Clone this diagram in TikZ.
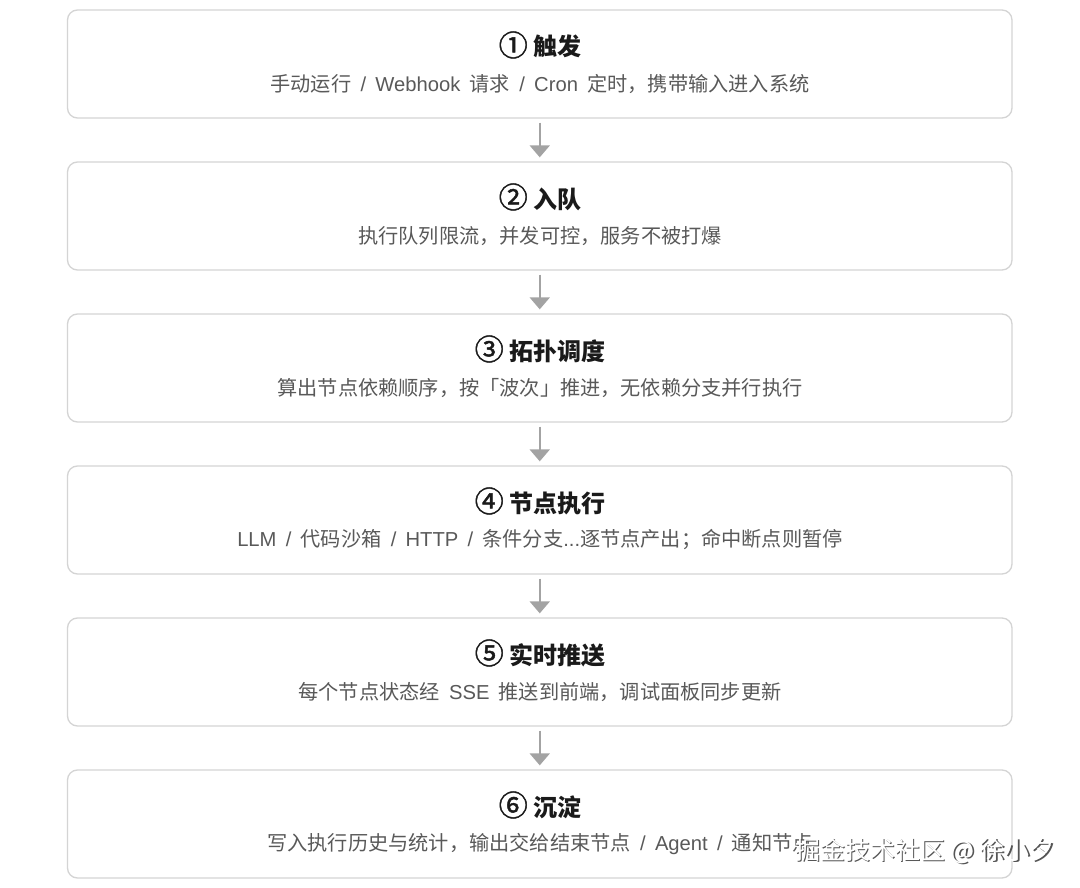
\documentclass[tikz,border=0pt]{standalone}
\usepackage{fontspec}
\setmainfont{Noto Sans CJK SC}
\newfontfamily\latfont{Liberation Sans}[WordSpace=1.65]
\newfontfamily\circfont{Noto Sans CJK SC}[FakeBold=1.6]
\newcommand{\la}[1]{{\latfont #1}}
\newcommand{\cn}[1]{{\circfont\mdseries\fontsize{29}{29}\selectfont #1}}
\usetikzlibrary{arrows.meta}
\definecolor{boxline}{HTML}{D4D4D4}
\definecolor{titlec}{HTML}{1A1A1A}
\definecolor{subc}{HTML}{595959}
\definecolor{arrowc}{HTML}{A3A3A3}
\definecolor{shadowc}{HTML}{555555}
\begin{document}
\begin{tikzpicture}[x=1pt,y=-1pt,
  stepbox/.style={draw=boxline, line width=1.3pt, rounded corners=10pt, fill=white,
    minimum width=944.5pt, minimum height=108pt, inner sep=0pt},
  ttl/.style={font=\fontsize{24}{28}\selectfont\bfseries, text=titlec, inner sep=0pt, anchor=base},
  sub/.style={font=\fontsize{20.2}{24}\selectfont, text=subc, inner sep=0pt},
  flow/.style={draw=arrowc, line width=2pt, -{Triangle[width=20pt,length=12pt]},
    shorten <=4pt, shorten >=4pt},
  wm/.style={font=\fontsize{25}{28}\selectfont, inner sep=0pt}]
\useasboundingbox (0,0) rectangle (1080,888);
\fill[white] (0,0) rectangle (1080,888);

\node[stepbox] (b1) at (539.75,64) {};
\node[stepbox] (b2) at (539.75,216) {};
\node[stepbox] (b3) at (539.75,368) {};
\node[stepbox] (b4) at (539.75,520) {};
\node[stepbox] (b5) at (539.75,672) {};
\node[stepbox] (b6) at (539.75,824) {};

\node[ttl] (t1) at (540,56) {\cn{①} 触发};
\node[sub] (s1) at (540,84) {手动运行\la{ / Webhook }请求\la{ / Cron }定时，携带输入进入系统};
\node[ttl] (t2) at (540,208) {\cn{②} 入队};
\node[sub] (s2) at (540,236) {执行队列限流，并发可控，服务不被打爆};
\node[ttl] (t3) at (540,360) {\cn{③} 拓扑调度};
\node[sub] (s3) at (540,388) {算出节点依赖顺序，按「波次」推进，无依赖分支并行执行};
\node[ttl] (t4) at (540,512) {\cn{④} 节点执行};
\node[sub] (s4) at (540,540) {\la{LLM / }代码沙箱\la{ / HTTP / }条件分支\la{...}逐节点产出；命中断点则暂停};
\node[ttl] (t5) at (540,664) {\cn{⑤} 实时推送};
\node[sub] (s5) at (540,692) {每个节点状态经\la{ SSE }推送到前端，调试面板同步更新};
\node[ttl] (t6) at (540,816) {\cn{⑥} 沉淀};
\node[sub] (s6) at (540,844) {写入执行历史与统计，输出交给结束节点\la{ / Agent / }通知节点};

\draw[flow] (b1.south) -- (b2.north);
\draw[flow] (b2.south) -- (b3.north);
\draw[flow] (b3.south) -- (b4.north);
\draw[flow] (b4.south) -- (b5.north);
\draw[flow] (b5.south) -- (b6.north);

\node[wm, text=shadowc] (wms) at (926.5,852.5) {掘金技术社区 @ 徐小夕};
\node[wm, text=white] (wm) at (925,851) {掘金技术社区 @ 徐小夕};
\end{tikzpicture}
\end{document}
